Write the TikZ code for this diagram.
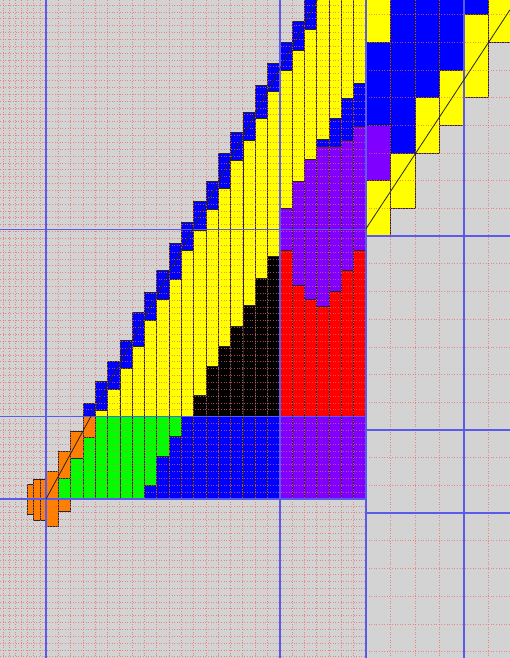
\documentclass[tikz,border=0pt]{standalone}
\newcommand\lcol[2]{\foreach \ya/\cc/\yb in {#2}{\path[cellb,fill=\cc] ({46+12.3*(#1)},\ya) rectangle ({58.3+12.3*(#1)},\yb);}}
\newcommand\rcol[2]{\foreach \ya/\cc/\yb in {#2}{\path[cellb,fill=\cc] ({366+24.5*(#1)},\ya) rectangle ({390.5+24.5*(#1)},\yb);}}
\begin{document}
\begin{tikzpicture}[x=1pt,y=-1pt]
\definecolor{bg}{RGB}{211,211,211}
\definecolor{cyel}{RGB}{255,255,0}
\definecolor{cblu}{RGB}{0,0,255}
\definecolor{cpur}{RGB}{128,0,255}
\definecolor{cred}{RGB}{255,0,0}
\definecolor{cgrn}{RGB}{0,255,0}
\definecolor{corg}{RGB}{255,128,0}
\definecolor{cblk}{RGB}{0,0,0}
\definecolor{gridred}{RGB}{240,100,100}
\definecolor{gridblue}{RGB}{90,90,235}
\tikzset{
  cellb/.style={draw=black!85, line width=0.5pt},
  dotg/.style={gridred, line width=0.7pt, dash pattern=on 1pt off 1.6pt, opacity=0.7},
  majg/.style={gridblue, line width=1.1pt},
  diag/.style={black!85, line width=0.8pt}
}
\useasboundingbox (0,0) rectangle (510,658);
\begin{scope}
\clip (0,0) rectangle (510,658);
\fill[bg] (0,0) rectangle (510,658);
% orange narrow cells left of x=46
\path[cellb,fill=corg] (27.55,484) rectangle (33.7,514);
\path[cellb,fill=corg] (33.7,479) rectangle (39.85,520);
\path[cellb,fill=corg] (39.85,479) rectangle (46,520);
% left region columns
\lcol{0}{471.7/corg/526.7}
\lcol{1}{451.7/corg/478.3, 478.3/cgrn/499, 499/corg/511.7}
\lcol{2}{431.7/corg/458.3, 458.3/cgrn/499}
\lcol{3}{403.3/cblu/416.5, 416.5/corg/437.5, 437.5/cgrn/499}
\lcol{4}{381.7/cblu/410, 410/cyel/416.5, 416.5/cgrn/499}
\lcol{5}{361/cblu/389.3, 389.3/cyel/416.5, 416.5/cgrn/499}
\lcol{6}{340/cblu/368.3, 368.3/cyel/416.5, 416.5/cgrn/499}
\lcol{7}{312.7/cblu/346.7, 346.7/cyel/416.5, 416.5/cgrn/499}
\lcol{8}{292.7/cblu/320, 320/cyel/416.5, 416.5/cgrn/485, 485/cblu/499}
\lcol{9}{270.7/cblu/299.3, 299.3/cyel/416.5, 416.5/cgrn/456.7, 456.7/cblu/499}
\lcol{10}{243.3/cblu/279.3, 279.3/cyel/416.5, 416.5/cgrn/436.7, 436.7/cblu/499}
\lcol{11}{222.7/cblu/250, 250/cyel/416.5, 416.5/cblu/499}
\lcol{12}{201.7/cblu/230, 230/cyel/395, 395/cblk/416.5, 416.5/cblu/499}
\lcol{13}{181.7/cblu/209.3, 209.3/cyel/366.7, 366.7/cblk/416.5, 416.5/cblu/499}
\lcol{14}{153.3/cblu/188.3, 188.3/cyel/346.7, 346.7/cblk/416.5, 416.5/cblu/499}
\lcol{15}{132.7/cblu/160.7, 160.7/cyel/326.7, 326.7/cblk/416.5, 416.5/cblu/499}
\lcol{16}{112.7/cblu/140, 140/cyel/305.5, 305.5/cblk/416.5, 416.5/cblu/499}
\lcol{17}{85/cblu/118.7, 118.7/cyel/278.3, 278.3/cblk/416.5, 416.5/cblu/499}
\lcol{18}{63.3/cblu/91.7, 91.7/cyel/256, 256/cblk/416.5, 416.5/cblu/499}
\lcol{19}{42.7/cblu/70.7, 70.7/cyel/208.3, 208.3/cpur/250, 250/cred/416.5, 416.5/cpur/499}
\lcol{20}{21.7/cblu/50, 50/cyel/181.7, 181.7/cpur/285, 285/cred/416.5, 416.5/cpur/499}
\lcol{21}{-5/cblu/29.3, 29.3/cyel/159.3, 159.3/cpur/299.3, 299.3/cred/416.5, 416.5/cpur/499}
\lcol{22}{-5/cyel/139.3, 139.3/cblu/146.7, 146.7/cpur/306, 306/cred/416.5, 416.5/cpur/499}
\lcol{23}{-5/cyel/118.3, 118.3/cblu/146.7, 146.7/cpur/291.7, 291.7/cred/416.5, 416.5/cpur/499}
\lcol{24}{-5/cyel/98.3, 98.3/cblu/140, 140/cpur/270.7, 270.7/cred/416.5, 416.5/cpur/499}
\lcol{25}{-5/cyel/83.3, 83.3/cblu/126.7, 126.7/cpur/250, 250/cred/416.5, 416.5/cpur/499}
% right region columns
\rcol{0}{-5/cyel/42.2, 42.2/cblu/125.3, 125.3/cpur/180.7, 180.7/cyel/236}
\rcol{1}{-5/cblu/153, 153/cyel/208.4}
\rcol{2}{-5/cblu/97.6, 97.6/cyel/153}
\rcol{3}{-5/cblu/69.9, 69.9/cyel/125.3}
\rcol{4}{-5/cblu/14.5, 14.5/cyel/97.6}
\rcol{5}{-5/cyel/42.2}
% dotted grid, left region
\foreach \k in {1,...,25} \draw[dotg] ({46+12.3*\k},0) -- ({46+12.3*\k},658);
\foreach \k in {1,...,7} \draw[dotg] ({46-6.15*\k},0) -- ({46-6.15*\k},658);
\foreach \k in {-23,...,72} \draw[dotg] (0,{499-6.86*\k}) -- (366,{499-6.86*\k});
% dotted grid, right region
\foreach \x in {390.5,415,439.5,488.5} \draw[dotg] (\x,0) -- (\x,658);
\foreach \k in {-8,...,15} \draw[dotg] (366,{430-27.7*\k}) -- (510,{430-27.7*\k});
% major blue lines
\foreach \x in {46,280,366,464} \draw[majg] (\x,0) -- (\x,658);
\foreach \y in {229.7,416.5,499} \draw[majg] (0,\y) -- (366,\y);
\foreach \y in {236,430,513} \draw[majg] (366,\y) -- (510,\y);
% diagonals
\coordinate (la) at (46,499);
\coordinate (lb) at (317.2,0);
\coordinate (ra) at (366,228.7);
\coordinate (rb) at (510,9.8);
\draw[diag] (la) -- (lb);
\draw[diag] (ra) -- (rb);
\end{scope}
\end{tikzpicture}
\end{document}
